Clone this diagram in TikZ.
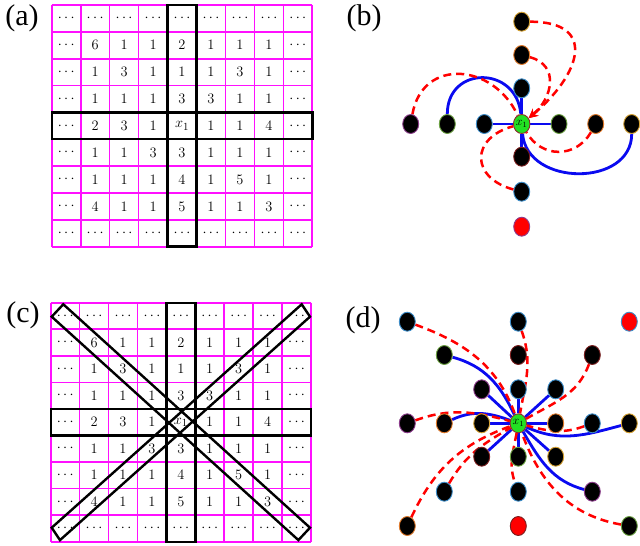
\documentclass[tikz,border=0pt]{standalone}
\usepackage{fontspec}
\newfontfamily\labelfont{Liberation Serif}
\usetikzlibrary{shapes.geometric,arrows.meta,backgrounds}
\definecolor{cgold}{HTML}{D4A030}
\definecolor{corange}{HTML}{E07828}
\definecolor{cblueo}{HTML}{3C8CC8}
\definecolor{cgreeno}{HTML}{6AA040}
\definecolor{cpurple}{HTML}{8C3C8C}
\definecolor{cdred}{HTML}{7A1E1E}
\definecolor{cbrown}{HTML}{8B2A2A}
\definecolor{cgreen}{HTML}{22E022}
\definecolor{lineblue}{HTML}{0A0AF0}
\definecolor{gridmag}{HTML}{FF10FF}
\def\gridrows{{\cdots,\cdots,\cdots,\cdots,\cdots,\cdots,\cdots,\cdots,\cdots},{\cdots,6,1,1,2,1,1,1,\cdots},{\cdots,1,3,1,1,1,3,1,\cdots},{\cdots,1,1,1,3,3,1,1,\cdots},{\cdots,2,3,1,x_1,1,1,4,\cdots},{\cdots,1,1,3,3,1,1,1,\cdots},{\cdots,1,1,1,4,1,5,1,\cdots},{\cdots,4,1,1,5,1,1,3,\cdots},{\cdots,\cdots,\cdots,\cdots,\cdots,\cdots,\cdots,\cdots,\cdots}}
\newcommand{\drawgridpanel}[5]{%
  \foreach \ii in {0,...,9} {
    \draw[gridline] ({#2+\ii*#4},{-#3}) -- ({#2+\ii*#4},{-(#3+9*#5)});
    \draw[gridline] ({#2},{-(#3+\ii*#5)}) -- ({#2+9*#4},{-(#3+\ii*#5)});
  }
  \foreach \grow [count=\ri from 0] in \gridrows {
    \foreach \val [count=\ci from 0] in \grow {
      \node[cell] (#1-\ri-\ci) at ({#2+(\ci+0.5)*#4},{-(#3+(\ri+0.5)*#5)}) {$\val$};
    }
  }
  \draw[thickbox] ({#2+4*#4},{-#3}) rectangle ({#2+5*#4},{-(#3+9*#5)});
  \draw[thickbox] ({#2},{-(#3+4*#5)}) rectangle ({#2+9*#4},{-(#3+5*#5)});
}
\begin{document}
\begin{tikzpicture}[x=1pt,y=1pt,
  gridline/.style={draw=gridmag,line width=1.7pt},
  thickbox/.style={draw=black,line width=2.4pt,line join=miter},
  cell/.style={inner sep=0pt,font=\fontsize{15}{15}\selectfont},
  plabel/.style={inner sep=0pt,font=\labelfont\fontsize{30}{30}\selectfont},
  vnode/.style={ellipse,draw=#1,fill=black,line width=0.9pt,minimum width=16pt,minimum height=19pt,inner sep=0pt},
  rnode/.style={vnode=#1,fill=red},
  cnode/.style={ellipse,draw=cbrown,fill=cgreen,line width=0.9pt,minimum width=16.5pt,minimum height=19pt,inner sep=0pt,font=\fontsize{12}{12}\selectfont},
  bline/.style={draw=lineblue,line width=2.8pt},
  rdash/.style={draw=red,line width=2.5pt,dash pattern=on 8pt off 5pt},
  rarrow/.style={rdash,-{Stealth[length=9pt,width=9pt]}}
]
\begin{scope}[on background layer]
\fill[white] (0,0) rectangle (640,-546);
\end{scope}
\useasboundingbox (0,0) rectangle (640,-546);

% panel labels
\node[plabel] (la) at (22,-18) {(a)};
\node[plabel] (lb) at (364,-18) {(b)};
\node[plabel] (lc) at (23,-315) {(c)};
\node[plabel] (ld) at (363,-320) {(d)};

% grids
\drawgridpanel{ga}{51.7}{5}{28.96}{26.85}
\drawgridpanel{gc}{50.7}{302.7}{28.92}{26.56}
\draw[thickbox] (51.7,-316.7) -- (63.3,-304.3) -- (310,-527.7) -- (298.4,-540.1) -- cycle;
\draw[thickbox] (301.7,-304.3) -- (310,-316.7) -- (60,-540.1) -- (51.7,-527.7) -- cycle;

% panel (b) nodes
\node[vnode=cgold]   (b1) at (521.7,-21.7) {};
\node[vnode=corange] (b2) at (521.7,-55) {};
\node[vnode=cblueo]  (b3) at (521.7,-88.3) {};
\node[cnode]         (bc) at (521.7,-124) {$x_1$};
\node[vnode=cdred]   (b5) at (521.7,-156.7) {};
\node[vnode=cblueo]  (b6) at (521.7,-191.7) {};
\node[rnode=cpurple] (b7) at (521.7,-226.7) {};
\node[vnode=cpurple] (bl3) at (410.7,-124) {};
\node[vnode=cgreeno] (bl2) at (447.3,-124) {};
\node[vnode=cblueo]  (bl1) at (484.3,-124) {};
\node[vnode=cgreeno] (br1) at (559,-124) {};
\node[vnode=corange] (br2) at (595.7,-124) {};
\node[vnode=cgold]   (br3) at (631.7,-124) {};

\begin{scope}[on background layer]
\draw[bline] (bc) -- (b3);
\draw[bline] (bc) -- (bl1);
\draw[bline] (bc) -- (br1);
\draw[bline] (bc) -- (b5);
\draw[bline] (bl2) to[out=90,in=95,looseness=1.7] (bc);
\draw[bline] (bc) to[out=-85,in=-90,looseness=1.25] (br3);
\draw[rdash] (bl3) to[out=80,in=115,looseness=1.4] (bc);
\draw[rarrow] (b1) to[out=0,in=40,looseness=1.8] (bc);
\draw[rarrow] (b2) to[out=-15,in=40,looseness=1.3] (bc);
\draw[rdash] (b6) to[out=165,in=195,looseness=1.8] (bc);
\draw[rdash] (br2) to[out=-120,in=-60,looseness=1.2] (bc);
\end{scope}

% panel (d) nodes
\node[vnode=cblueo]  (d11) at (407.3,-321.7) {};
\node[vnode=cblueo]  (d14) at (518.3,-321.7) {};
\node[rnode=cblueo]  (d17) at (629.3,-321.7) {};
\node[vnode=cgreeno] (d22) at (444.3,-355) {};
\node[vnode=cdred]   (d24) at (518.3,-355) {};
\node[vnode=cdred]   (d26) at (592.3,-355) {};
\node[vnode=cpurple] (d33) at (481.7,-389.3) {};
\node[vnode=cblueo]  (d34) at (518.3,-389.3) {};
\node[vnode=cblueo]  (d35) at (555.7,-389.3) {};
\node[vnode=cpurple] (d41) at (407.3,-423.3) {};
\node[vnode=corange] (d42) at (444.3,-423.3) {};
\node[vnode=cgold]   (d43) at (481.7,-423.3) {};
\node[cnode]         (dc)  at (518.3,-423.3) {$x_1$};
\node[vnode=corange] (d45) at (555.7,-423.3) {};
\node[vnode=cblueo]  (d46) at (592.3,-423.3) {};
\node[vnode=cgold]   (d47) at (629.3,-423.3) {};
\node[vnode=cdred]   (d53) at (481.7,-456.7) {};
\node[vnode=cgreeno] (d54) at (518.3,-456.7) {};
\node[vnode=cgold]   (d55) at (555.7,-456.7) {};
\node[vnode=cblueo]  (d62) at (444.3,-491.7) {};
\node[vnode=cblueo]  (d64) at (518.3,-491.7) {};
\node[vnode=cpurple] (d66) at (592.3,-491.7) {};
\node[vnode=corange] (d71) at (407.3,-526) {};
\node[rnode=cdred]   (d74) at (518.3,-526) {};
\node[vnode=cgreeno] (d77) at (629.3,-526) {};

\begin{scope}[on background layer]
\foreach \n in {d33,d34,d35,d43,d45,d53,d54,d55} {
  \draw[bline] (dc) -- (\n);
}
\draw[bline] (d22) to[out=-15,in=115] (dc);
\draw[bline] (d42) to[out=25,in=160] (dc);
\draw[bline] (dc) to[out=-25,in=195] (d47);
\draw[bline] (dc) to[out=-60,in=165] (d66);
\draw[rdash] (d11) to[out=-20,in=110] (dc);
\draw[rdash] (d14) to[out=-70,in=80] (dc);
\draw[rdash] (d26) to[out=-110,in=30] (dc);
\draw[rdash] (d41) to[out=20,in=165] (dc);
\draw[rdash] (d46) to[out=-160,in=-15] (dc);
\draw[rdash] (d71) to[out=65,in=-160] (dc);
\draw[rdash] (d62) to[out=60,in=-150] (dc);
\draw[rdash] (dc) to[out=-100,in=110] (d64);
\draw[rdash] (d77) to[out=170,in=-70] (dc);
\end{scope}
\end{tikzpicture}
\end{document}
